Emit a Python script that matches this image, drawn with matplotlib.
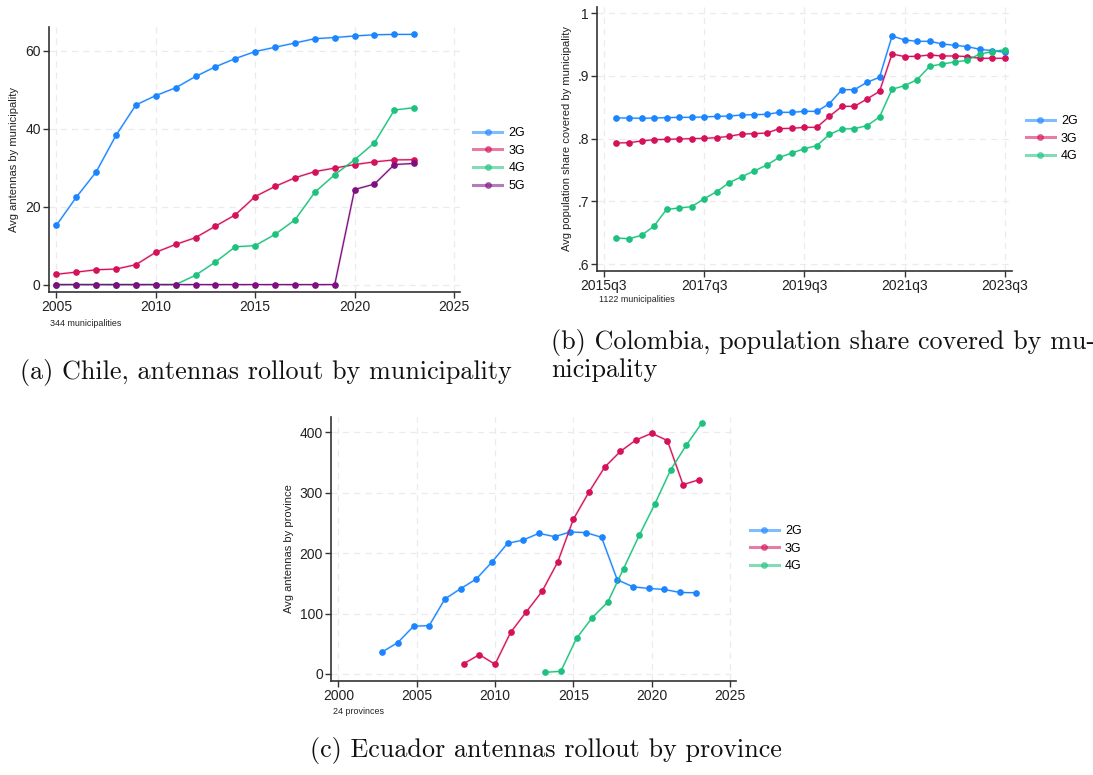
import matplotlib
matplotlib.use("Agg")
import matplotlib.pyplot as plt
from matplotlib.lines import Line2D

# ---------------- DATA ----------------
# Chile (annual)
chile_years = list(range(2005, 2024))
chile_2g = [15.2, 22.4, 28.9, 38.3, 46.1, 48.5, 50.5, 53.4, 55.9, 58.0, 59.8, 60.9,
            62.0, 63.1, 63.4, 63.8, 64.1, 64.2, 64.2]
chile_3g = [2.65, 3.2, 3.8, 4.0, 5.1, 8.3, 10.3, 12.05, 15.0, 17.9, 22.6, 25.2,
            27.4, 29.0, 29.9, 30.8, 31.5, 32.0, 32.05]
chile_4g = [0, 0, 0, 0, 0, 0, 0, 2.4, 5.8, 9.7, 10.0, 12.9, 16.6, 23.7, 28.2,
            32.05, 36.4, 44.8, 45.4]
chile_5g = [0, 0, 0, 0, 0, 0, 0, 0, 0, 0, 0, 0, 0, 0, 0, 24.4, 25.8, 30.8, 31.1]
chile_xticks = [2005, 2010, 2015, 2020, 2025]
chile_yticks = [0, 20, 40, 60]

# Colombia (quarterly, 2015q4 - 2023q3)
col_all_quarters = ["%dq%d" % (y, q) for y in range(2015, 2024) for q in range(1, 5)]
col_all_quarters = col_all_quarters[col_all_quarters.index("2015q3"):col_all_quarters.index("2023q3") + 1]
col_quarters = col_all_quarters[1:]
col_2g = [0.833, 0.833, 0.8324, 0.833, 0.8335, 0.834, 0.834, 0.8346, 0.8356, 0.836,
          0.8378, 0.8383, 0.8388, 0.842, 0.842, 0.8436, 0.8436, 0.8559, 0.8782, 0.8782,
          0.8899, 0.8979, 0.9638, 0.9574, 0.9553, 0.9553, 0.9511, 0.9489, 0.9468,
          0.9426, 0.9404, 0.9378]
col_3g = [0.7931, 0.7936, 0.7963, 0.7984, 0.7989, 0.7995, 0.800, 0.8005, 0.8016, 0.8037,
          0.8074, 0.808, 0.809, 0.816, 0.8165, 0.8181, 0.8181, 0.8356, 0.8516, 0.8516,
          0.8633, 0.8755, 0.9351, 0.9309, 0.9314, 0.9335, 0.9319, 0.9319, 0.9309,
          0.9282, 0.9282, 0.9282]
col_4g = [0.6415, 0.6404, 0.6457, 0.6606, 0.6872, 0.6894, 0.6915, 0.7043, 0.7154, 0.7298,
          0.7394, 0.7484, 0.758, 0.7702, 0.7771, 0.784, 0.7888, 0.8069, 0.8154, 0.816,
          0.8207, 0.8346, 0.8787, 0.8846, 0.8941, 0.9154, 0.9191, 0.9223, 0.925,
          0.9351, 0.9388, 0.942]
col_xtick_labels = ["2015q3", "2017q3", "2019q3", "2021q3", "2023q3"]
col_yticks = [0.6, 0.7, 0.8, 0.9, 1.0]
col_ytick_labels = [".6", ".7", ".8", ".9", "1"]

# Ecuador (annual, series slightly offset in Stata)
ecu_x_2g = [2002.8, 2003.8, 2004.8, 2005.8, 2006.8, 2007.8, 2008.8, 2009.8, 2010.8,
            2011.8, 2012.8, 2013.8, 2014.8, 2015.8, 2016.8, 2017.8, 2018.8, 2019.8,
            2020.8, 2021.8, 2022.8]
ecu_2g = [36.5, 52, 79, 80, 124, 141, 157, 185, 216, 221.5, 232.6, 227, 234.8, 233.7,
          226, 155.8, 144.2, 141.4, 139.8, 134.8, 134.3]
ecu_x_3g = list(range(2008, 2024))
ecu_3g = [17, 32, 16, 69, 102.8, 136.5, 185, 255.8, 301, 342, 368, 387, 398, 386, 313, 321]
ecu_x_4g = [2013.2, 2014.2, 2015.2, 2016.2, 2017.2, 2018.2, 2019.2, 2020.2, 2021.2,
            2022.2, 2023.2]
ecu_4g = [2.8, 4.4, 59, 93, 119, 174, 229, 281, 337, 378, 415]
ecu_xticks = [2000, 2005, 2010, 2015, 2020, 2025]
ecu_yticks = [0, 100, 200, 300, 400]

labels = ["2G", "3G", "4G", "5G"]
colors = ["#1a85ff", "#d41159", "#1cc27d", "#7d0f80"]

# ---------------- FIGURE ----------------
W, H = 1093, 775
fig = plt.figure(figsize=(W / 100, H / 100), dpi=100)
SANS = ["Liberation Sans", "DejaVu Sans"]
SERIF = ["cmr10", "DejaVu Serif"]
plt.rcParams["font.family"] = SANS
plt.rcParams["axes.unicode_minus"] = False


def add_ax(l, r, t, b):
    return fig.add_axes([l / W, 1 - b / H, (r - l) / W, (b - t) / H])


def style(ax):
    for s in ["top", "right"]:
        ax.spines[s].set_visible(False)
    for s in ["left", "bottom"]:
        ax.spines[s].set_color("#333333")
        ax.spines[s].set_linewidth(1.2)
    ax.tick_params(axis="both", direction="out", length=4, width=1.0,
                   color="#333333", labelsize=10, labelcolor="#222222", pad=2)
    ax.grid(True, color="#ebebeb", linestyle=(0, (5, 4)), linewidth=0.9)
    ax.set_axisbelow(True)


def series(ax, x, y, c):
    ax.plot(x, y, color=c, lw=1.8, alpha=0.18, solid_capstyle="round", zorder=2)
    ax.plot(x, y, color=c, lw=0.9, marker="o", ms=3.8, mec=c, mfc=c, zorder=3)


def legend(ax, n, bbox):
    handles = [Line2D([0], [0], color=colors[i], lw=2.2, alpha=0.55, marker="o",
                      ms=4, mfc=colors[i], mec=colors[i]) for i in range(n)]
    leg = ax.legend(handles, labels[:n], loc="center left", bbox_to_anchor=bbox,
                    frameon=False, fontsize=9, handlelength=2.3, handletextpad=0.5,
                    labelspacing=0.45, borderaxespad=0)
    return leg


# Panel (a) Chile
axa = add_ax(49, 460, 27, 292)
style(axa)
for yy, c in zip([chile_2g, chile_3g, chile_4g, chile_5g], colors):
    series(axa, chile_years, yy, c)
axa.set_xlim(2004.63, 2025.3)
axa.set_ylim(-1.9, 66.1)
axa.set_xticks(chile_xticks)
axa.set_yticks(chile_yticks)
axa.set_ylabel("Avg antennas by municipality", fontsize=8, color="#222222", labelpad=4)
legend(axa, 4, (0.02 + 1.0, 0.5))
fig.text(50 / W, 1 - 323 / H, "344 municipalities", fontsize=6.4, color="#222222",
         va="center", ha="left")

# Panel (b) Colombia
axb = add_ax(597.3, 1011.7, 6.7, 270.7)
style(axb)
col_x = [col_all_quarters.index(q) for q in col_quarters]
for yy, c in zip([col_2g, col_3g, col_4g], colors):
    series(axb, col_x, yy, c)
axb.set_xlim(-0.53, 32.55)
axb.set_ylim(0.5894, 1.0105)
axb.set_xticks([col_all_quarters.index(q) for q in col_xtick_labels])
axb.set_xticklabels(col_xtick_labels)
axb.set_yticks(col_yticks)
axb.set_yticklabels(col_ytick_labels)
axb.set_ylabel("Avg population share covered by municipality", fontsize=8,
               color="#222222", labelpad=4)
legend(axb, 3, (1.022, 0.5))
fig.text(599 / W, 1 - 300 / H, "1122 municipalities", fontsize=6.4, color="#222222",
         va="center", ha="left")

# Panel (c) Ecuador
axc = add_ax(331.3, 736, 416.7, 681)
style(axc)
for xx, yy, c in zip([ecu_x_2g, ecu_x_3g, ecu_x_4g], [ecu_2g, ecu_3g, ecu_4g], colors):
    series(axc, xx, yy, c)
axc.set_xlim(1999.55, 2025.38)
axc.set_ylim(-11.6, 425.4)
axc.set_xticks(ecu_xticks)
axc.set_yticks(ecu_yticks)
axc.set_ylabel("Avg antennas by province", fontsize=8, color="#222222", labelpad=4)
legend(axc, 3, (1.022, 0.5))
fig.text(333 / W, 1 - 712 / H, "24 provinces", fontsize=6.4, color="#222222",
         va="center", ha="left")

# Captions
CAP = 18.8
fig.text(20 / W, 1 - 372 / H, "(a) Chile, antennas rollout by municipality",
         fontsize=CAP, family=SERIF, va="center", ha="left", color="#111111")
fig.text(551 / W, 1 - 342 / H, "(b) Colombia, population share covered by mu-",
         fontsize=CAP, family=SERIF, va="center", ha="left", color="#111111")
fig.text(551 / W, 1 - 370 / H, "nicipality",
         fontsize=CAP, family=SERIF, va="center", ha="left", color="#111111")
fig.text(546 / W, 1 - 751 / H, "(c) Ecuador antennas rollout by province",
         fontsize=CAP, family=SERIF, va="center", ha="center", color="#111111")

fig.savefig("out.png", dpi=100)
